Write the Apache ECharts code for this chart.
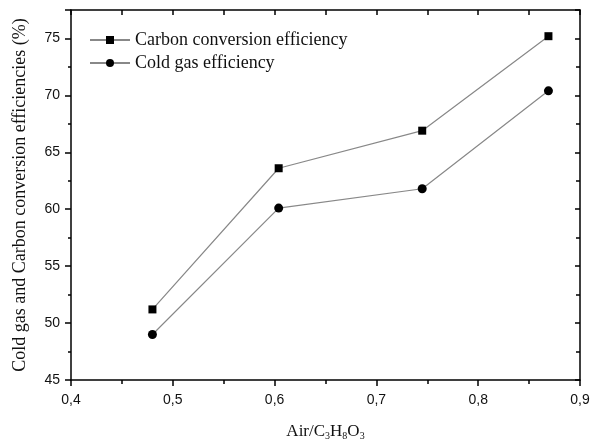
<!DOCTYPE html>
<html lang="en">

<head>
    <meta charset="UTF-8">
    <title>Cold gas and carbon conversion efficiency</title>
    <script src="https://cdnjs.cloudflare.com/ajax/libs/echarts/6.0.0/echarts.min.js"></script>
    <style>
        body { margin: 0; background: #fff; }
    </style>
</head>

<body>
    <div id="main" style="width: 600px;height:441px;"></div>

    <script>
        // data
        const airRatio = [0.48, 0.604, 0.745, 0.869];
        const carbonConv = [51.2, 63.6, 66.9, 75.2];
        const coldGas = [49.0, 60.1, 61.8, 70.4];
        const xTicks = ['0,4', '0,5', '0,6', '0,7', '0,8', '0,9'];

        const myChart = echarts.init(document.getElementById('main'));

        const pairs = (ys) => airRatio.map((x, i) => [x, ys[i]]);

        const serif = '"Liberation Serif", "DejaVu Serif", serif';
        const sans = '"Liberation Sans", Arial, sans-serif';

        const axisLine = { show: true, lineStyle: { color: '#000', width: 1.5 } };

        const option = {
            animation: false,
            grid: { left: 71, right: 20, top: 10, bottom: 61, outerBoundsMode: 'none' },
            legend: {
                left: 84,
                top: 26,
                orient: 'vertical',
                itemWidth: 40,
                itemHeight: 10,
                itemGap: 5,
                textStyle: { fontFamily: serif, fontSize: 18, color: '#111' },
                data: ['Carbon conversion efficiency', 'Cold gas efficiency']
            },
            xAxis: [
                {
                    type: 'value',
                    min: 0.4, max: 0.9, interval: 0.1,
                    axisLine: axisLine,
                    axisTick: { inside: false, length: 6, lineStyle: { color: '#000', width: 1.5 } },
                    minorTick: { show: true, splitNumber: 2, length: 4, lineStyle: { color: '#000', width: 1.5 } },
                    splitLine: { show: false },
                    axisLabel: {
                        margin: 13, fontFamily: sans, fontSize: 14, color: '#111',
                        formatter: (v) => xTicks[Math.round((v - 0.4) * 10)]
                    },
                    name: 'Air/C{s|3}H{s|8}O{s|3}',
                    nameLocation: 'middle',
                    nameGap: 42,
                    nameTextStyle: {
                        fontFamily: serif, fontSize: 17, color: '#111',
                        rich: { s: { fontFamily: serif, fontSize: 10, color: '#111', padding: [9, 0, 0, 0] } }
                    }
                },
                {
                    type: 'value', position: 'top',
                    min: 0.4, max: 0.9, interval: 0.1,
                    axisLine: axisLine,
                    axisTick: { inside: true, length: 5, lineStyle: { color: '#000', width: 1.5 } },
                    minorTick: { show: true, splitNumber: 2, length: 5, lineStyle: { color: '#000', width: 1.5 } },
                    splitLine: { show: false },
                    axisLabel: { show: false }
                }
            ],
            yAxis: [
                {
                    type: 'value',
                    min: 45, max: 77.5, interval: 5,
                    axisLine: axisLine,
                    axisTick: { inside: false, length: 6, lineStyle: { color: '#000', width: 1.5 } },
                    minorTick: { show: true, splitNumber: 2, length: 3, lineStyle: { color: '#000', width: 1.5 } },
                    splitLine: { show: false },
                    axisLabel: {
                        margin: 11, fontFamily: sans, fontSize: 14, color: '#111',
                        showMaxLabel: false
                    },
                    name: 'Cold gas and Carbon conversion efficiencies (%)',
                    nameLocation: 'middle',
                    nameGap: 42,
                    nameTextStyle: { fontFamily: serif, fontSize: 18, color: '#111' }
                },
                {
                    type: 'value', position: 'right',
                    min: 45, max: 77.5, interval: 5,
                    axisLine: axisLine,
                    axisTick: { inside: true, length: 5, lineStyle: { color: '#000', width: 1.5 } },
                    minorTick: { show: true, splitNumber: 2, length: 4, lineStyle: { color: '#000', width: 1.5 } },
                    splitLine: { show: false },
                    axisLabel: { show: false }
                }
            ],
            series: [
                {
                    name: 'Carbon conversion efficiency',
                    type: 'line',
                    data: pairs(carbonConv),
                    symbol: 'rect',
                    symbolSize: 8,
                    itemStyle: { color: '#000' },
                    lineStyle: { color: '#888', width: 1.2 }
                },
                {
                    name: 'Cold gas efficiency',
                    type: 'line',
                    data: pairs(coldGas),
                    symbol: 'circle',
                    symbolSize: 9,
                    itemStyle: { color: '#000' },
                    lineStyle: { color: '#888', width: 1.2 }
                }
            ]
        };

        myChart.setOption(option);
    </script>
</body>

</html>
